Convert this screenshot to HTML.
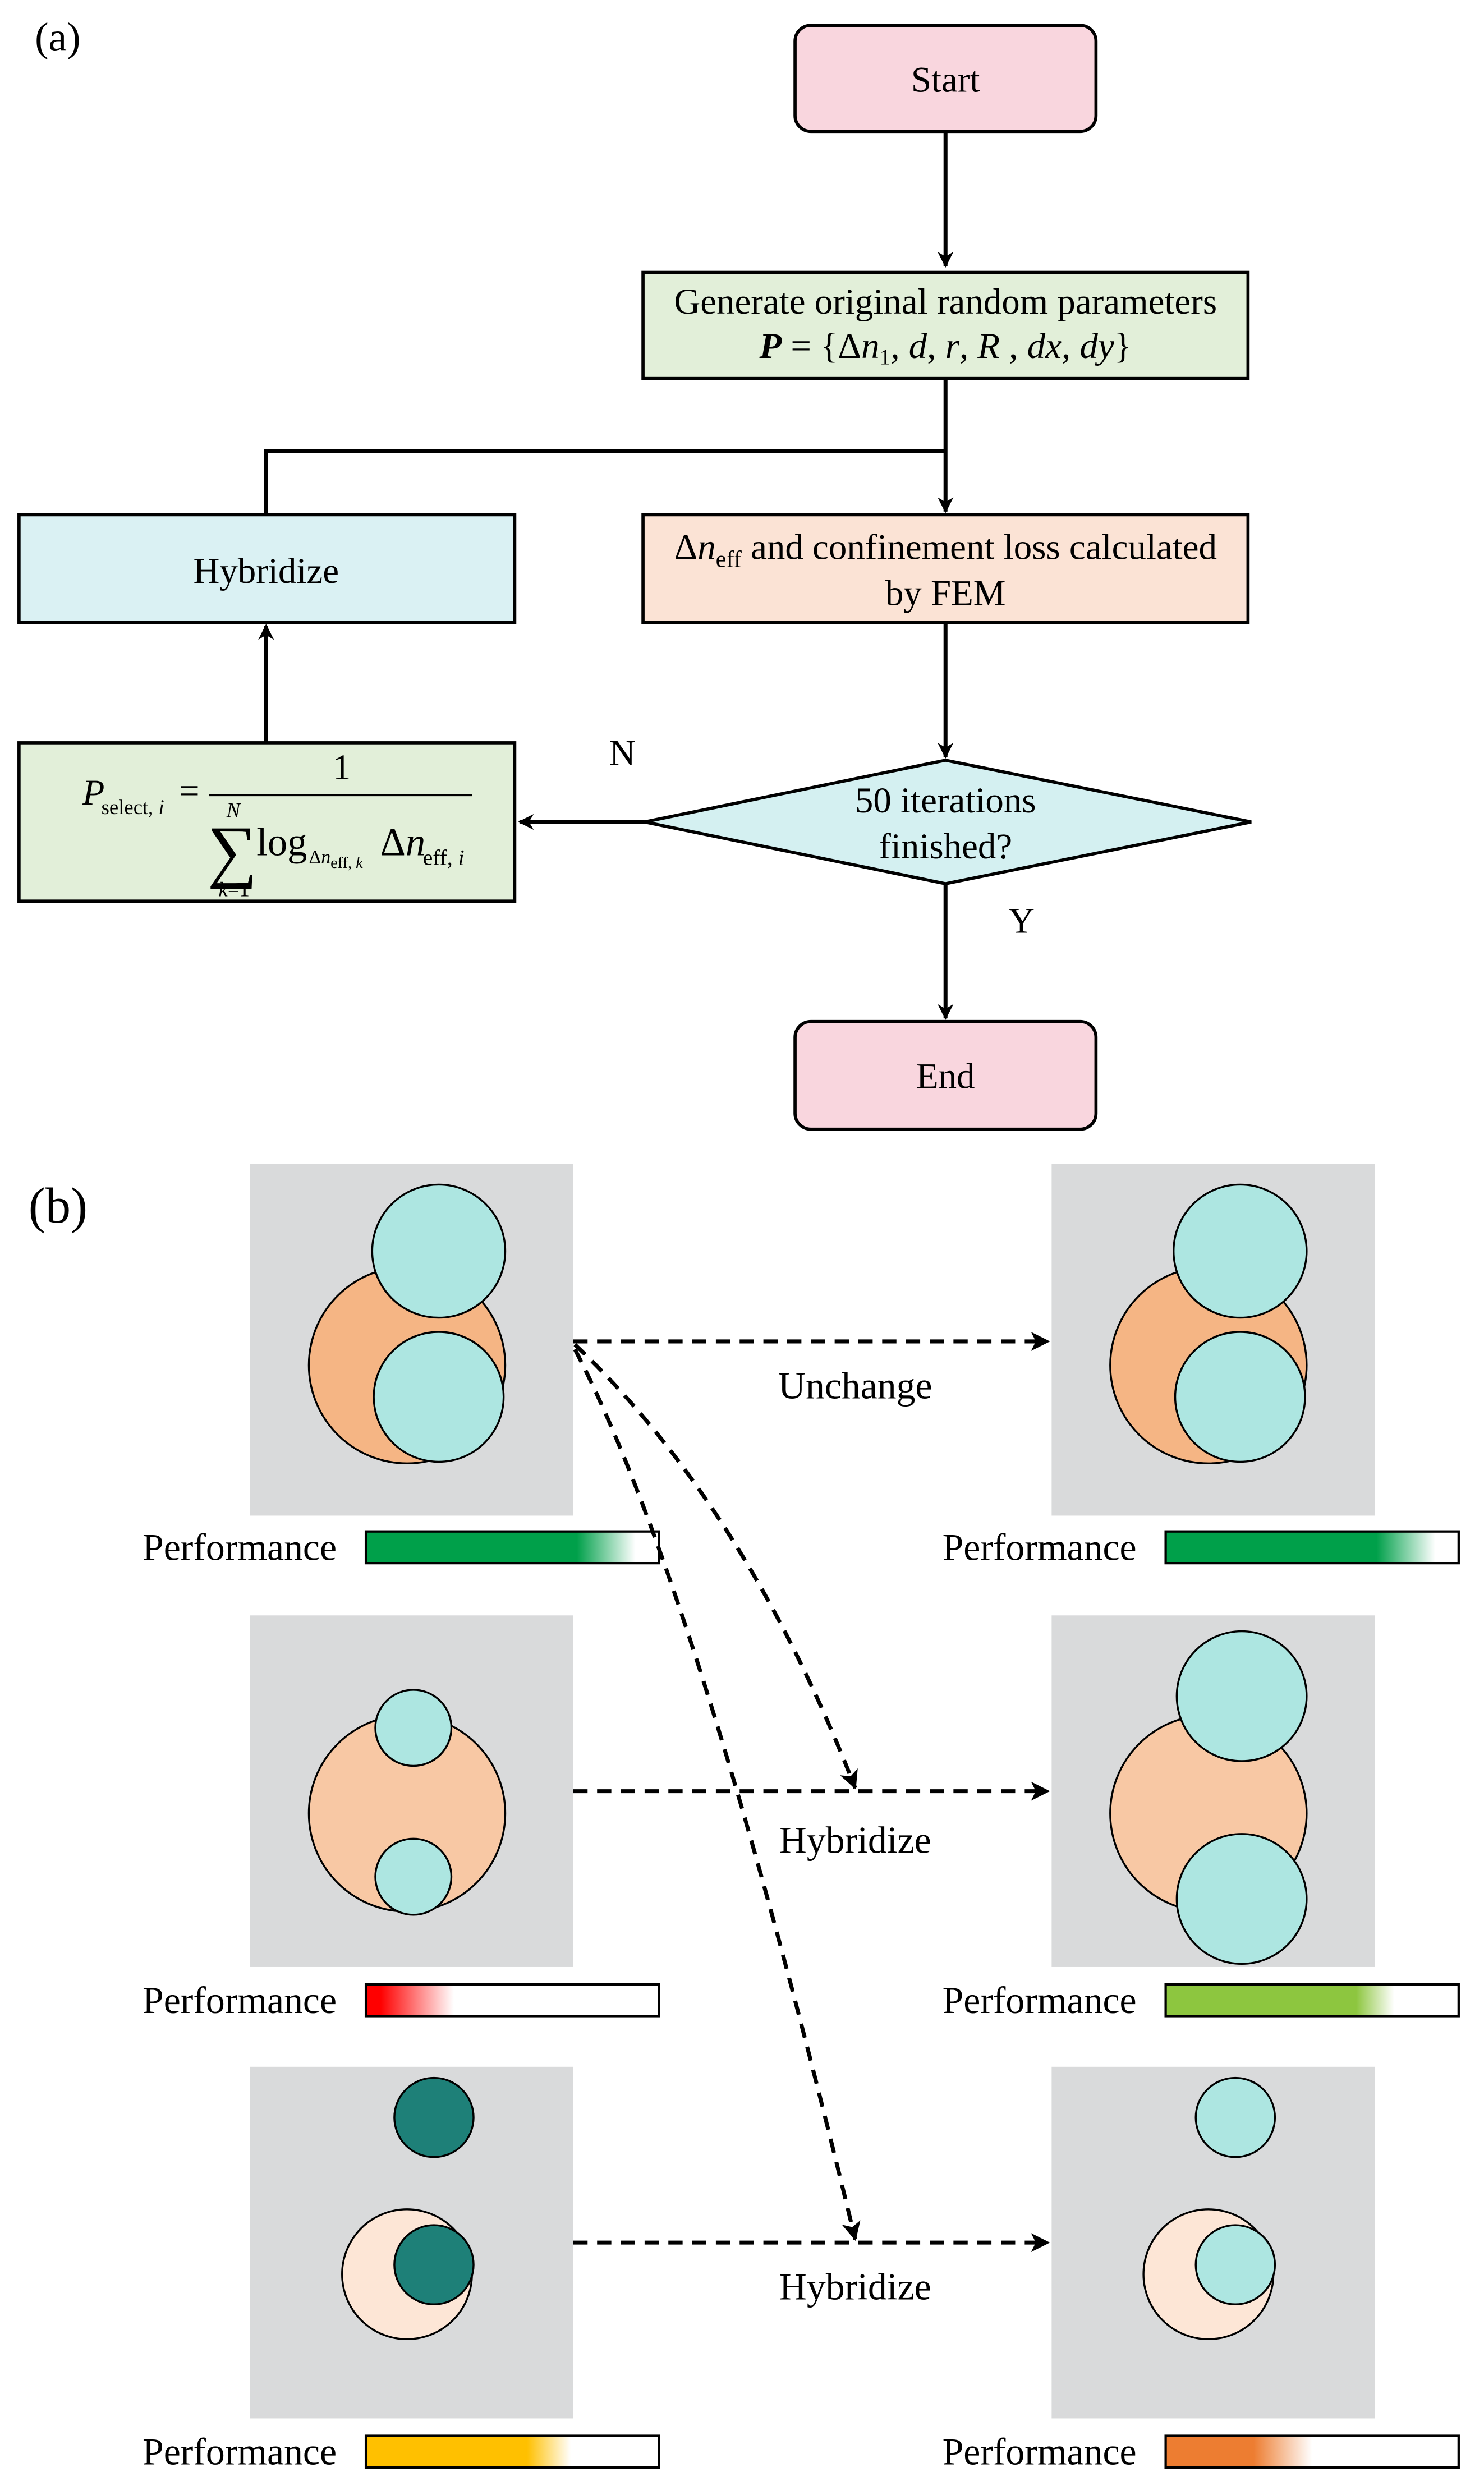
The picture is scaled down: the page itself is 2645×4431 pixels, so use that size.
<!DOCTYPE html>
<html><head><meta charset="utf-8"><style>html,body{margin:0;padding:0;background:#fff}svg{display:block}svg text{font-family:"Liberation Serif",serif}</style></head>
<body>
<svg width="2645" height="4431" viewBox="0 0 937 1569.7" preserveAspectRatio="none" xmlns="http://www.w3.org/2000/svg" fill="#000">
<defs>
<marker id="ah" markerWidth="10" markerHeight="10" refX="9" refY="5" orient="auto" markerUnits="userSpaceOnUse"><path d="M0,0 L10,5 L0,10 L3,5 z" fill="#000"/></marker>
<marker id="ah2" markerWidth="12" markerHeight="12" refX="11" refY="6" orient="auto" markerUnits="userSpaceOnUse"><path d="M0,0 L12,6 L0,12 L3,6 z" fill="#000"/></marker>
<linearGradient id="g1"><stop offset="0.72" stop-color="#00a04a"/><stop offset="0.92" stop-color="#fff"/></linearGradient>
<linearGradient id="g2"><stop offset="0.05" stop-color="#ff0000"/><stop offset="0.3" stop-color="#fff"/></linearGradient>
<linearGradient id="g3"><stop offset="0.65" stop-color="#8dc63f"/><stop offset="0.78" stop-color="#fff"/></linearGradient>
<linearGradient id="g4"><stop offset="0.55" stop-color="#ffc000"/><stop offset="0.7" stop-color="#fff"/></linearGradient>
<linearGradient id="g5"><stop offset="0.3" stop-color="#ed7d31"/><stop offset="0.5" stop-color="#fff"/></linearGradient>
</defs>
<text x="22" y="32" font-size="26">(a)</text>
<g stroke="#000" stroke-width="2.5" fill="none">
<line x1="597" y1="83" x2="597" y2="168" marker-end="url(#ah)"/>
<line x1="597" y1="239" x2="597" y2="323" marker-end="url(#ah)"/>
<polyline points="597,285 168,285 168,325"/>
<line x1="597" y1="393" x2="597" y2="478" marker-end="url(#ah)"/>
<line x1="407" y1="519" x2="328" y2="519" marker-end="url(#ah)"/>
<line x1="168" y1="469" x2="168" y2="395" marker-end="url(#ah)"/>
<line x1="597" y1="558" x2="597" y2="643" marker-end="url(#ah)"/>
</g>
<g stroke="#000" stroke-width="2">
<rect x="502" y="16" width="190" height="67" rx="10" fill="#f9d6de"/>
<rect x="406" y="172" width="382" height="67" fill="#e2efd9"/>
<rect x="12" y="325" width="313" height="68" fill="#daf1f3"/>
<rect x="406" y="325" width="382" height="68" fill="#fbe3d5"/>
<polygon points="407,519 597,480 790,519 597,558" fill="#d4f0f1"/>
<rect x="12" y="469" width="313" height="100" fill="#e2efd9"/>
<rect x="502" y="645" width="190" height="68" rx="10" fill="#f9d6de"/>
</g>
<g font-size="23" text-anchor="middle">
<text x="597" y="58">Start</text>
<text x="597" y="198">Generate original random parameters</text>
<text x="597" y="226"><tspan font-weight="bold" font-style="italic">P</tspan> = {Δ<tspan font-style="italic">n</tspan><tspan font-size="14" dy="4">1</tspan><tspan dy="-4">, </tspan><tspan font-style="italic">d</tspan>, <tspan font-style="italic">r</tspan>, <tspan font-style="italic">R</tspan> , <tspan font-style="italic">dx</tspan>, <tspan font-style="italic">dy</tspan>}</text>
<text x="168" y="368">Hybridize</text>
<text x="597" y="353">Δ<tspan font-style="italic">n</tspan><tspan font-size="15" dy="5">eff</tspan><tspan dy="-5"> and confinement loss calculated</tspan></text>
<text x="597" y="382">by FEM</text>
<text x="597" y="513">50 iterations</text>
<text x="597" y="542">finished?</text>
<text x="597" y="687">End</text>
<text x="393" y="483">N</text>
<text x="645" y="589">Y</text>
</g>
<g font-size="23">
<text x="52" y="508" font-style="italic">P</text>
<text x="64" y="514" font-size="13">select, <tspan font-style="italic">i</tspan></text>
<text x="113" y="507">=</text>
<line x1="132" y1="502" x2="298" y2="502" stroke="#000" stroke-width="1.5"/>
<text x="210" y="492">1</text>
<text x="143" y="516" font-size="13" font-style="italic">N</text>
<text x="131" y="552" font-size="44">∑</text>
<text x="162" y="540" font-size="25">log</text>
<text x="195" y="545" font-size="12">Δ<tspan font-style="italic">n</tspan><tspan font-size="10" dy="3">eff, <tspan font-style="italic">k</tspan></tspan></text>
<text x="240" y="540" font-size="25">Δ<tspan font-style="italic">n</tspan></text>
<text x="267" y="546" font-size="14">eff, <tspan font-style="italic">i</tspan></text>
<text x="138" y="566" font-size="13"><tspan font-style="italic">k</tspan>=1</text>
</g>
<text x="18" y="772" font-size="32">(b)</text>
<g fill="#d9dadb">
<rect x="158" y="735" width="204" height="222"/><rect x="664" y="735" width="204" height="222"/>
<rect x="158" y="1020" width="204" height="222"/><rect x="664" y="1020" width="204" height="222"/>
<rect x="158" y="1305" width="204" height="222"/><rect x="664" y="1305" width="204" height="222"/>
</g>
<g stroke="#000" stroke-width="1.2">
<circle cx="257" cy="862" r="62" fill="#f5b584"/><circle cx="277" cy="790" r="42" fill="#ade6e1"/><circle cx="277" cy="882" r="41" fill="#ade6e1"/>
<circle cx="763" cy="862" r="62" fill="#f5b584"/><circle cx="783" cy="790" r="42" fill="#ade6e1"/><circle cx="783" cy="882" r="41" fill="#ade6e1"/>
<circle cx="257" cy="1145" r="62" fill="#f8c8a4"/><circle cx="261" cy="1091" r="24" fill="#ade6e1"/><circle cx="261" cy="1185" r="24" fill="#ade6e1"/>
<circle cx="763" cy="1145" r="62" fill="#f8c8a4"/><circle cx="784" cy="1071" r="41" fill="#ade6e1"/><circle cx="784" cy="1199" r="41" fill="#ade6e1"/>
<circle cx="274" cy="1337" r="25" fill="#1e8078"/><circle cx="257" cy="1436" r="41" fill="#fde6d6"/><circle cx="274" cy="1430" r="25" fill="#1e8078"/>
<circle cx="780" cy="1337" r="25" fill="#ade6e1"/><circle cx="763" cy="1436" r="41" fill="#fde6d6"/><circle cx="780" cy="1430" r="25" fill="#ade6e1"/>
</g>
<g stroke="#000" stroke-width="1.5">
<rect x="231" y="967" width="185" height="20" fill="url(#g1)"/><rect x="736" y="967" width="185" height="20" fill="url(#g1)"/>
<rect x="231" y="1253" width="185" height="20" fill="url(#g2)"/><rect x="736" y="1253" width="185" height="20" fill="url(#g3)"/>
<rect x="231" y="1538" width="185" height="20" fill="url(#g4)"/><rect x="736" y="1538" width="185" height="20" fill="url(#g5)"/>
</g>
<g font-size="24">
<text x="90" y="985">Performance</text><text x="595" y="985">Performance</text>
<text x="90" y="1271">Performance</text><text x="595" y="1271">Performance</text>
<text x="90" y="1556">Performance</text><text x="595" y="1556">Performance</text>
</g>
<g stroke="#000" stroke-width="2.5" fill="none" stroke-dasharray="9,6">
<line x1="362" y1="847" x2="662" y2="847" marker-end="url(#ah2)"/>
<line x1="362" y1="1131" x2="662" y2="1131" marker-end="url(#ah2)"/>
<line x1="362" y1="1416" x2="662" y2="1416" marker-end="url(#ah2)"/>
<path d="M363,849 Q470,950 540,1129" marker-end="url(#ah2)"/>
<path d="M363,852 Q440,1000 540,1414" marker-end="url(#ah2)"/>
</g>
<g font-size="24" text-anchor="middle">
<text x="540" y="883">Unchange</text>
<text x="540" y="1170">Hybridize</text>
<text x="540" y="1452">Hybridize</text>
</g>
</svg>
</body></html>
